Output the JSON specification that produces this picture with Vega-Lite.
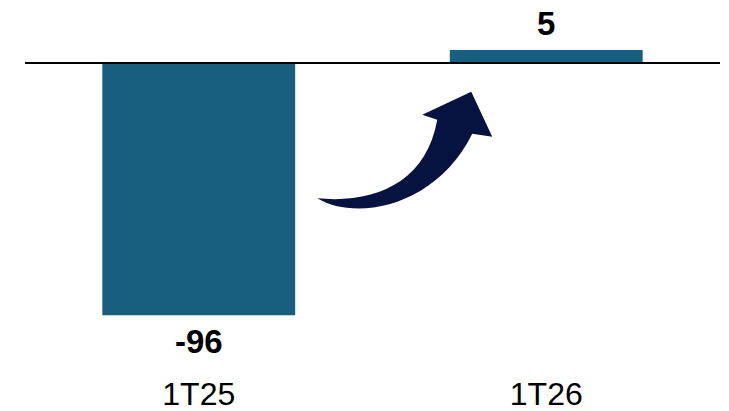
{
  "$schema": "https://vega.github.io/schema/vega-lite/v6.json",
  "width": 695,
  "height": 352,
  "autosize": {"type": "none"},
  "padding": {"left": 25, "top": 0, "right": 9, "bottom": 59},
  "background": "white",
  "config": {"view": {"stroke": null}, "font": "Liberation Sans"},
  "data": {"values": [
    {"period": "1T25", "value": -96, "label": "-96"},
    {"period": "1T26", "value": 5, "label": "5"}
  ]},
  "encoding": {
    "x": {"field": "period", "type": "nominal", "sort": null,
      "scale": {"paddingInner": 0.445, "paddingOuter": 0.2225},
      "axis": {"title": null, "domain": false, "ticks": false, "labelAngle": 0,
        "labelFont": "Liberation Sans", "labelFontSize": 32, "labelColor": "black",
        "labelBaseline": "alphabetic", "labelPadding": 52}}
  },
  "layer": [
    {
      "mark": {"type": "bar", "color": "#185f7f"},
      "encoding": {
        "y": {"field": "value", "type": "quantitative", "scale": {"domain": [-110, 24], "nice": false, "zero": true}, "axis": null}
      }
    },
    {
      "data": {"values": [{"zero": 0}]},
      "mark": {"type": "rule", "color": "black", "strokeWidth": 2},
      "encoding": {"x": null, "y": {"field": "zero", "type": "quantitative"}}
    },
    {
      "transform": [{"filter": "datum.value < 0"}],
      "mark": {"type": "text", "fontSize": 33, "fontWeight": "bold", "font": "Liberation Sans", "color": "black", "baseline": "alphabetic", "dy": 38},
      "encoding": {
        "y": {"field": "value", "type": "quantitative"},
        "text": {"field": "label", "type": "nominal"}
      }
    },
    {
      "transform": [{"filter": "datum.value >= 0"}],
      "mark": {"type": "text", "fontSize": 33, "fontWeight": "bold", "font": "Liberation Sans", "color": "black", "baseline": "alphabetic", "dy": -15},
      "encoding": {
        "y": {"field": "value", "type": "quantitative"},
        "text": {"field": "label", "type": "nominal"}
      }
    },
    {
      "data": {"values": [{"period": "1T26", "anchor": -30}]},
      "mark": {"type": "point", "filled": true, "opacity": 1, "color": "#061240", "strokeWidth": 0, "size": 40000,
        "shape": "M-2.29,0.565 C-1.9,0.8 -1.1,0.65 -0.74,-0.08 L-0.54,-0.05 L-0.75,-0.5 L-1.24,-0.27 L-1.09,-0.22 C-1.2,0.4 -1.7,0.62 -2.29,0.565 Z"},
      "encoding": {
        "y": {"field": "anchor", "type": "quantitative"}
      }
    }
  ]
}
